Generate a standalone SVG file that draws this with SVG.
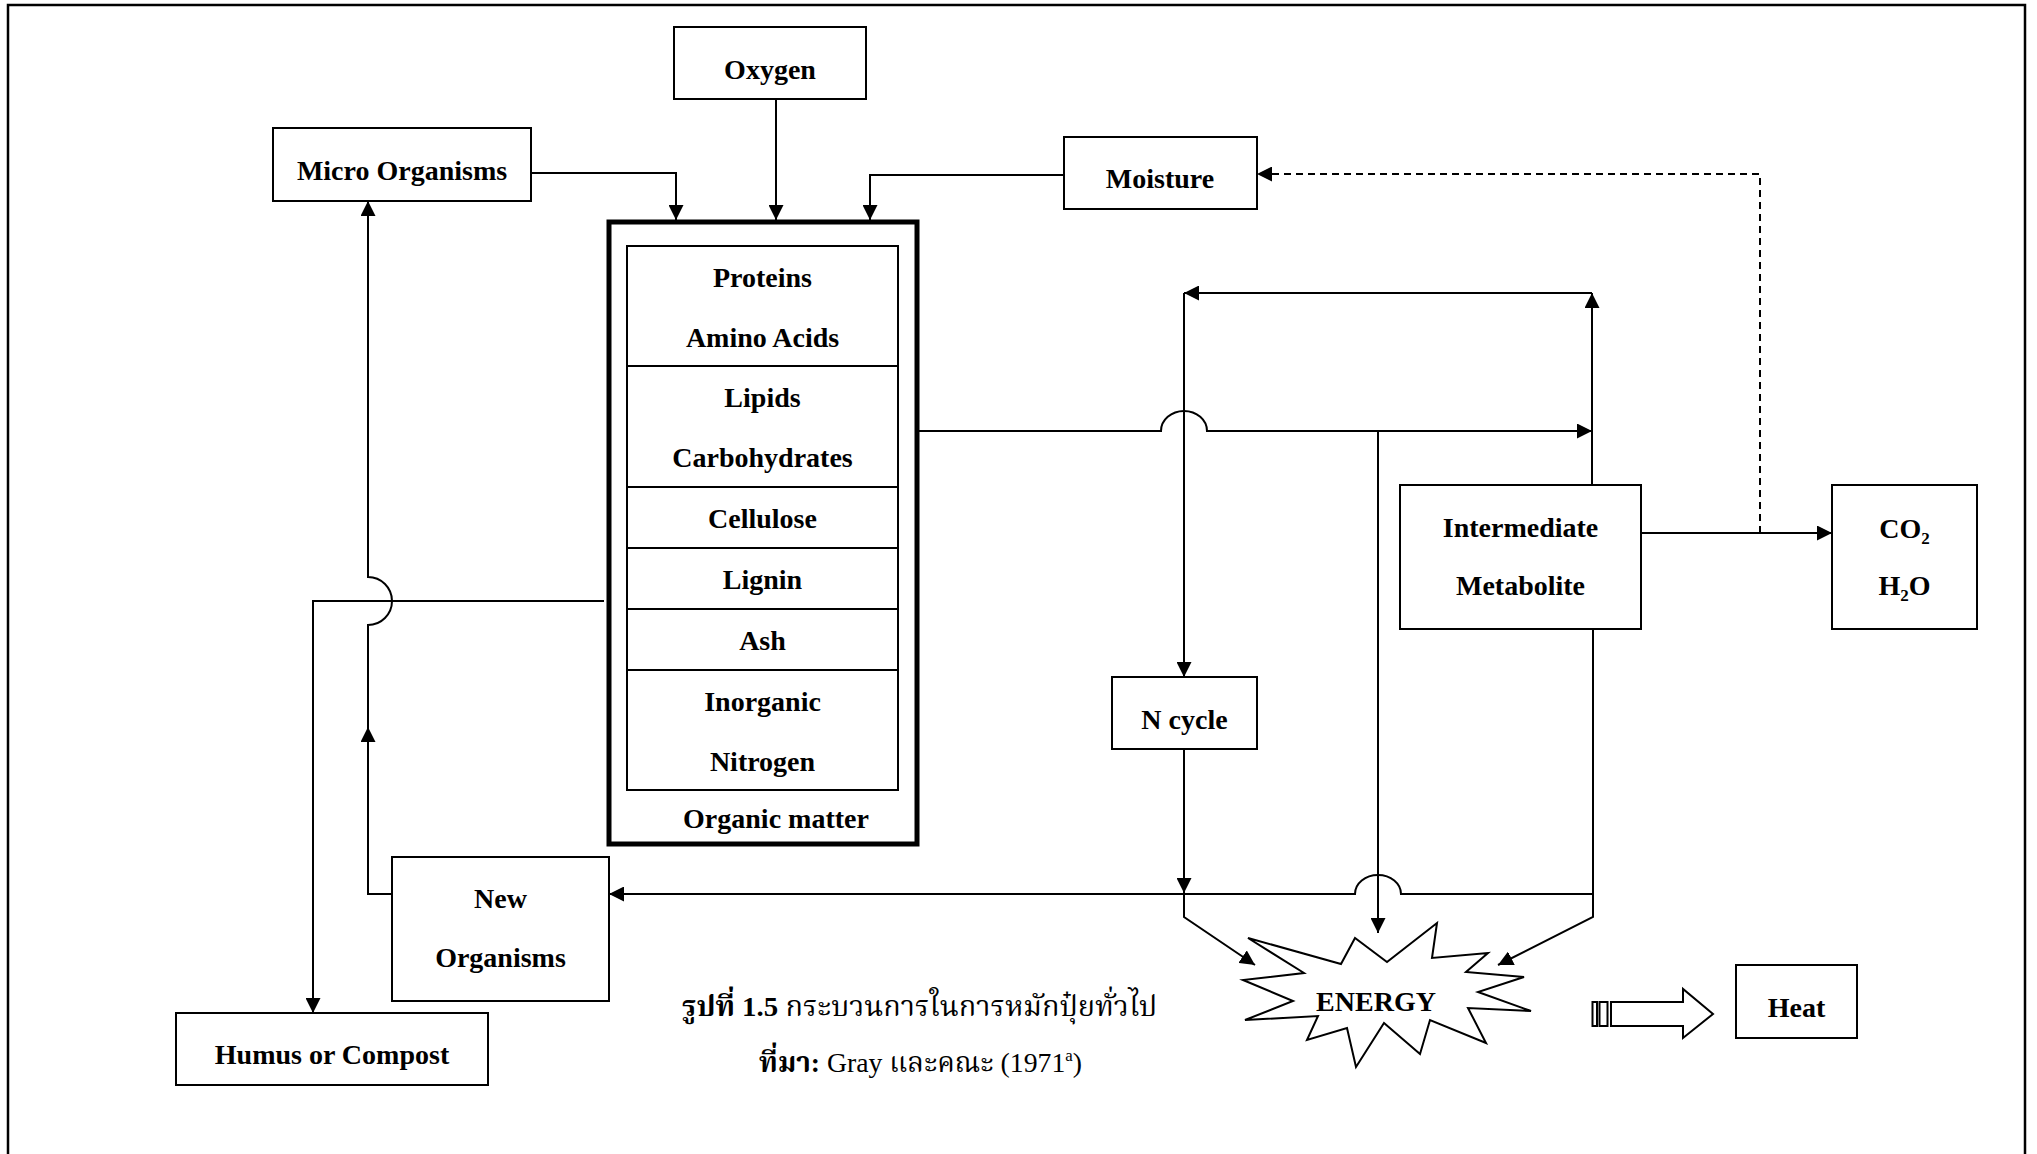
<svg xmlns="http://www.w3.org/2000/svg" width="2037" height="1154" viewBox="0 0 2037 1154">
  <defs>
    <marker id="arrow" viewBox="0 0 15 15" refX="15" refY="7.5" markerWidth="15" markerHeight="15" markerUnits="userSpaceOnUse" orient="auto">
      <path d="M0,0 L15,7.5 L0,15 z" fill="#000"/>
    </marker>
    <style>
      .box{fill:#fff;stroke:#000;stroke-width:2}
      .thick{fill:#fff;stroke:#000;stroke-width:5}
      .lbl{font-family:"Liberation Serif","Times New Roman",serif;font-weight:bold;font-size:28px;text-anchor:middle;fill:#000}
      .sub{font-size:17px}
      .wire{fill:none;stroke:#000;stroke-width:2}
      .arr{marker-end:url(#arrow)}
      .dash{stroke-dasharray:7 5}
      .cap{font-family:"Liberation Serif","Noto Serif Thai","Noto Sans Thai","DejaVu Serif",serif;font-size:28px;fill:#000}
      .outline{fill:#fff;stroke:#000;stroke-width:2}
    </style>
  </defs>

  <rect x="0" y="0" width="2037" height="1154" fill="#fff"/>
  <!-- page frame (bottom edge runs past the sheet) -->
  <rect x="8" y="5" width="2017" height="1190" fill="none" stroke="#000" stroke-width="2.5"/>

  <!-- connectors -->
  <g id="connectors">
    <path class="wire arr" d="M531,173 H676 V220"/>
    <path class="wire arr" d="M776,99 V220"/>
    <path class="wire arr" d="M1064,175 H870 V220"/>
    <path class="wire arr" d="M917,431 H1161 A23,20 0 0 1 1207,431 H1592"/>
    <path class="wire arr" d="M1592,485 V293"/>
    <path class="wire arr" d="M1592,293 H1184"/>
    <path class="wire arr" d="M1184,293 V677"/>
    <path class="wire arr" d="M1184,749 V893"/>
    <path class="wire arr" d="M1184,893 V917 L1255,965"/>
    <path class="wire arr" d="M1378,431 V933"/>
    <path class="wire arr" d="M1593,629 V917 L1498,965"/>
    <path class="wire arr" d="M1593,894 H1401 A23,19 0 0 0 1355,894 H609"/>
    <path class="wire arr" d="M1641,533 H1832"/>
    <path class="wire dash arr" d="M1760,533 V174 H1257"/>
    <path class="wire arr" d="M604,601 H313 V1013"/>
    <path class="wire arr" d="M392,894 H368 V727"/>
    <path class="wire arr" d="M368,727 V625 A24,24 0 0 0 368,577 V201"/>
  </g>

  <g id="oxygen">
    <rect class="box" x="674" y="27" width="192" height="72"/>
    <text class="lbl" x="770" y="79">Oxygen</text>
  </g>

  <g id="micro-organisms">
    <rect class="box" x="273" y="128" width="258" height="73"/>
    <text class="lbl" x="402" y="180">Micro Organisms</text>
  </g>

  <g id="moisture">
    <rect class="box" x="1064" y="137" width="193" height="72"/>
    <text class="lbl" x="1160" y="188">Moisture</text>
  </g>

  <g id="organic-matter">
    <rect class="thick" x="609" y="222" width="308" height="622"/>
    <rect class="box" x="627" y="246" width="271" height="544"/>
    <path class="wire" d="M627,366 H898 M627,487 H898 M627,548 H898 M627,609 H898 M627,670 H898"/>
    <text class="lbl" x="762.5" y="287">Proteins</text>
    <text class="lbl" x="762.5" y="347">Amino Acids</text>
    <text class="lbl" x="762.5" y="407">Lipids</text>
    <text class="lbl" x="762.5" y="467">Carbohydrates</text>
    <text class="lbl" x="762.5" y="528">Cellulose</text>
    <text class="lbl" x="762.5" y="589">Lignin</text>
    <text class="lbl" x="762.5" y="650">Ash</text>
    <text class="lbl" x="762.5" y="711">Inorganic</text>
    <text class="lbl" x="762.5" y="771">Nitrogen</text>
    <text class="lbl" x="776" y="828">Organic matter</text>
  </g>

  <g id="intermediate-metabolite">
    <rect class="box" x="1400" y="485" width="241" height="144"/>
    <text class="lbl" x="1520.5" y="537">Intermediate</text>
    <text class="lbl" x="1520.5" y="595">Metabolite</text>
  </g>

  <g id="co2-h2o">
    <rect class="box" x="1832" y="485" width="145" height="144"/>
    <text class="lbl" x="1904.5" y="538">CO<tspan class="sub" dy="6">2</tspan></text>
    <text class="lbl" x="1904.5" y="595">H<tspan class="sub" dy="6">2</tspan><tspan dy="-6">O</tspan></text>
  </g>

  <g id="n-cycle">
    <rect class="box" x="1112" y="677" width="145" height="72"/>
    <text class="lbl" x="1184.5" y="729">N cycle</text>
  </g>

  <g id="new-organisms">
    <rect class="box" x="392" y="857" width="217" height="144"/>
    <text class="lbl" x="500.5" y="908">New</text>
    <text class="lbl" x="500.5" y="967">Organisms</text>
  </g>

  <g id="humus-compost">
    <rect class="box" x="176" y="1013" width="312" height="72"/>
    <text class="lbl" x="332" y="1064">Humus or Compost</text>
  </g>

  <g id="energy">
    <polygon class="outline" points="1248,938 1341,964 1355,938 1387,962 1437,923 1432,958 1488,953 1466,972 1524,977 1478,992 1531,1011 1468,1008 1486,1043 1430,1020 1420,1054 1384,1023 1356,1067 1347,1028 1307,1040 1318,1016 1245,1020 1293,1001 1243,980 1304,973"/>
    <text class="lbl" x="1376" y="1011">ENERGY</text>
  </g>

  <g id="heat-arrow">
    <rect class="outline" x="1592.5" y="1002" width="4.5" height="24"/>
    <rect class="outline" x="1599.5" y="1002" width="8" height="24"/>
    <polygon class="outline" points="1611,1002 1683,1002 1683,989 1713,1014 1683,1038 1683,1026 1611,1026"/>
  </g>

  <g id="heat">
    <rect class="box" x="1736" y="965" width="121" height="73"/>
    <text class="lbl" x="1796.5" y="1017">Heat</text>
  </g>

  <g id="caption">
    <text class="cap" x="682" y="1016" textLength="475" lengthAdjust="spacingAndGlyphs"><tspan font-weight="bold">รูปที่ 1.5</tspan> กระบวนการในการหมักปุ๋ยทั่วไป</text>
    <text class="cap" x="759" y="1072" textLength="323" lengthAdjust="spacingAndGlyphs"><tspan font-weight="bold">ที่มา:</tspan> Gray และคณะ (1971<tspan font-size="17" dy="-11">a</tspan><tspan dy="11">)</tspan></text>
  </g>
</svg>
